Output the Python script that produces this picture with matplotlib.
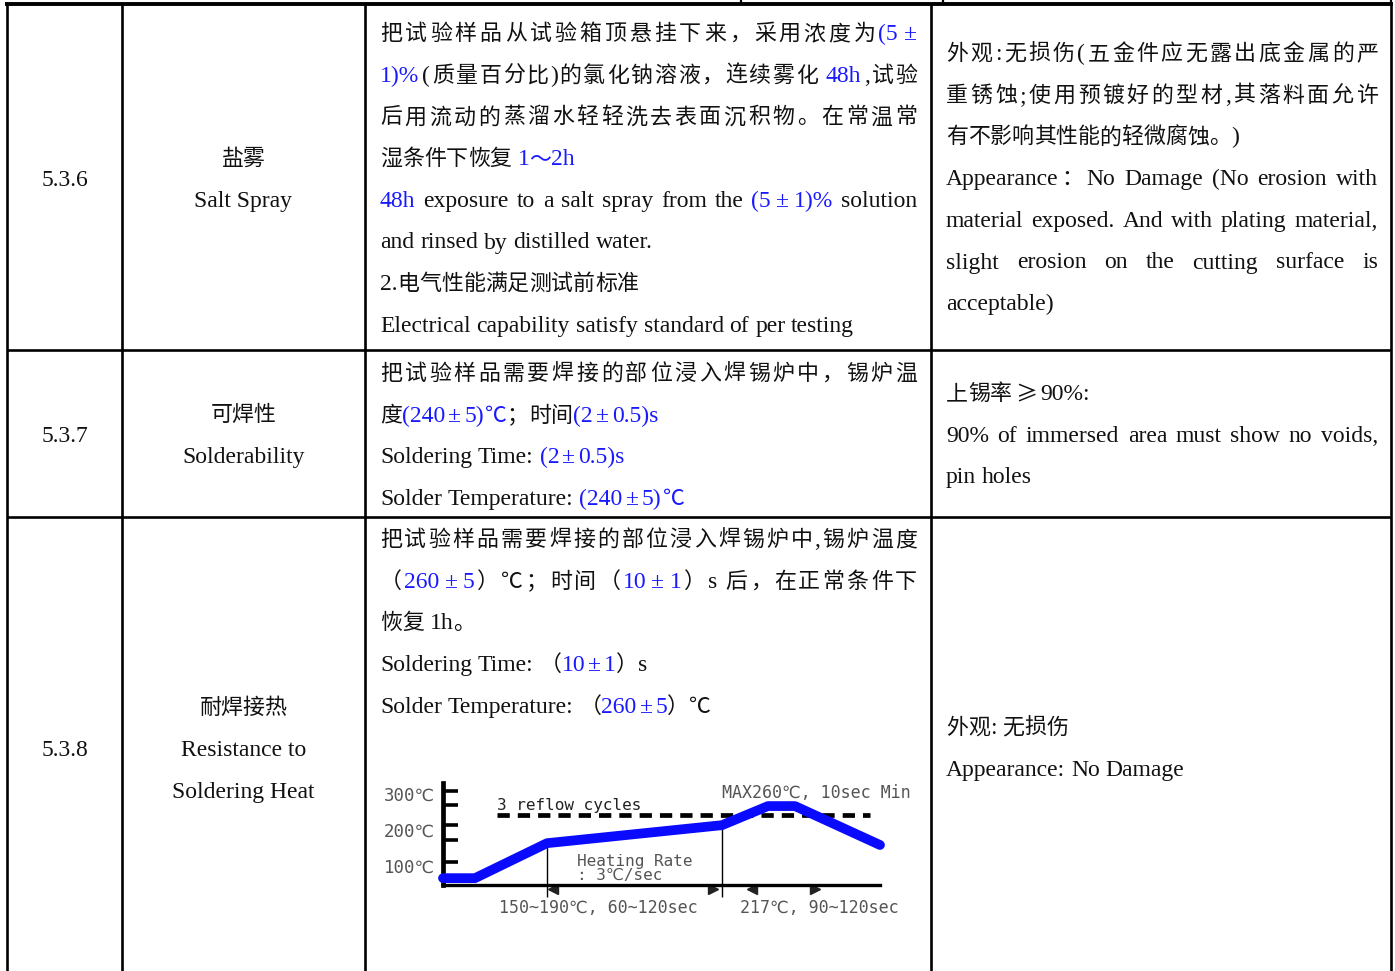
import unicodedata
import matplotlib
matplotlib.use("Agg")
import matplotlib.pyplot as plt

# ---- table content ----
row_codes = ["5.3.6", "5.3.7", "5.3.8"]
item_names = [["盐雾", "Salt Spray"],
              ["可焊性", "Solderability"],
              ["耐焊接热", "Resistance to", "Soldering Heat"]]

# {...} marks blue text, second value = justified line
method_lines = [
    [("把试验样品从试验箱顶悬挂下来，采用浓度为{(5±}", True),
     ("{1)%}(质量百分比)的氯化钠溶液，连续雾化 {48h},试验", True),
     ("后用流动的蒸溜水轻轻洗去表面沉积物。在常温常", True),
     ("湿条件下恢复 {1～2h}", False),
     ("{48h} exposure to a salt spray from the {(5±1)%} solution", True),
     ("and rinsed by distilled water.", False),
     ("2.电气性能满足测试前标准", False),
     ("Electrical capability satisfy standard of per testing", False)],
    [("把试验样品需要焊接的部位浸入焊锡炉中，锡炉温", True),
     ("度{(240±5)℃}；时间{(2±0.5)s}", False),
     ("Soldering Time: {(2±0.5)s}", False),
     ("Solder Temperature: {(240±5)℃}", False)],
    [("把试验样品需要焊接的部位浸入焊锡炉中,锡炉温度", True),
     ("（{260±5}）℃；时间（{10±1}）s 后，在正常条件下", True),
     ("恢复 1h。", False),
     ("Soldering Time: （{10±1}）s", False),
     ("Solder Temperature: （{260±5}）℃", False)],
]

criteria_lines = [
    [("外观:无损伤(五金件应无露出底金属的严", True),
     ("重锈蚀;使用预镀好的型材,其落料面允许", True),
     ("有不影响其性能的轻微腐蚀。)", False),
     ("Appearance：No Damage (No erosion with", True),
     ("material exposed. And with plating material,", True),
     ("slight erosion on the cutting surface is", True),
     ("acceptable)", False)],
    [("上锡率≥90%:", False),
     ("90% of immersed area must show no voids,", True),
     ("pin holes", False)],
    [("外观: 无损伤", False),
     ("Appearance: No Damage", False)],
]

# ---- reflow profile (inset) ----
profile_time = [0, 32, 104, 279, 325, 352, 437]
profile_temp = [72, 72, 169, 219, 272, 272, 164]
reflow_limit_temp = 247
reflow_limit_span = [54, 427]
axis_tick_temps = [117, 178, 219, 275, 314]
axis_label_temps = [100, 200, 300]
zone_marks = [104, 279]
zone_mark_temps = [169, 219]
arrow_left_t = [110, 309]
arrow_right_t = [270, 372]

W, H = 1395, 971
FS_LAT = 17
FS_CJK = 15.8
EM_CJK = FS_CJK * 100 / 72
SPACE = 0.25 * FS_LAT * 100 / 72
LAT = ['Liberation Serif', 'Noto Sans CJK SC']
CJK = ['Noto Sans CJK SC', 'Liberation Serif']
BLUE = '#1a1aff'
INK = '#111111'
OWN = '±℃≥'

fig = plt.figure(figsize=(W / 100, H / 100), dpi=100)
ax = fig.add_axes([0, 0, 1, 1])
ax.set_xlim(0, W)
ax.set_ylim(H, 0)
ax.axis('off')
renderer = fig.canvas.get_renderer()

# grid of the table
col_edges = [7, 122, 365, 931, 1391]
row_edges = [4, 350, 517]
ax.hlines(row_edges[0], col_edges[0] - 2, col_edges[-1] + 2, color='black', lw=2.8)
ax.hlines(row_edges[1:], col_edges[0], col_edges[-1], color='black', lw=1.9)
ax.vlines(col_edges, row_edges[0], H, color='black', lw=1.9)
ax.vlines([741, 943, 1391], 0, row_edges[0], color='black', lw=1.6)


def is_wide(ch):
    return unicodedata.east_asian_width(ch) in ('W', 'F')


def parse(line):
    segs, buf, blue = [], '', False
    for ch in line:
        if ch in '{}':
            if buf:
                segs.append((buf, blue))
                buf = ''
            blue = ch == '{'
        else:
            buf += ch
    if buf:
        segs.append((buf, blue))
    return segs


def split_tokens(segs):
    toks = []
    sp = False
    for txt, blue in segs:
        buf = ''
        for ch in txt:
            if ch == ' ':
                if buf:
                    toks.append((buf, blue, sp))
                    buf = ''
                sp = True
            elif is_wide(ch) or ch in OWN:
                if buf:
                    toks.append((buf, blue, sp))
                    buf = ''
                    sp = False
                toks.append((ch, blue, sp))
                sp = False
            else:
                buf += ch
        if buf:
            toks.append((buf, blue, sp))
            sp = False
    return toks


def style(tok):
    if is_wide(tok[0]) or tok in ('℃', '≥'):
        return dict(fontsize=FS_CJK, family=CJK, fontweight='light')
    return dict(fontsize=FS_LAT, family=LAT)


def tok_width(tok):
    if len(tok) == 1 and is_wide(tok):
        return EM_CJK
    t = ax.text(0, 0, tok, **style(tok))
    w = t.get_window_extent(renderer).width
    t.remove()
    return w


def draw_line(x0, yc, line, right=None):
    toks = split_tokens(parse(line))
    widths = [tok_width(t[0]) for t in toks]
    gaps = [0.0]
    for i in range(1, len(toks)):
        a, b = toks[i - 1][0], toks[i][0]
        if toks[i][2]:
            gaps.append(SPACE)
        elif a in '±≥' or b in '±≥':
            gaps.append(3.0)
        elif is_wide(b[0]) or is_wide(a[-1]):
            gaps.append(0.0)
        else:
            gaps.append(1.5)
    extra = 0.0
    if right is not None and len(toks) > 1:
        extra = max(0.0, (right - x0) - sum(widths) - sum(gaps)) / (len(toks) - 1)
    x = x0
    for i, (txt, blue, _) in enumerate(toks):
        if i > 0:
            x += gaps[i] + extra
        ax.text(x, yc + 8, txt, va='baseline', ha='left',
                color=BLUE if blue else INK, **style(txt))
        x += widths[i]


def center_text(xc, yc, txt):
    ax.text(xc, yc + 8, txt, ha='center', va='baseline', color=INK, **style(txt))


LINE_STEP = 41.7
code_y = [178, 434, 748]
name_y = [157, 413, 706]
for i, code in enumerate(row_codes):
    center_text(64.5, code_y[i], code)
    for j, name in enumerate(item_names[i]):
        center_text(243.5, name_y[i] + j * 42, name)

method_y = [32, 372, 538]
crit_y = [52, 392, 726]
for i in range(3):
    for j, (line, just) in enumerate(method_lines[i]):
        draw_line(380, method_y[i] + j * LINE_STEP, line, 917 if just else None)
    for j, (line, just) in enumerate(criteria_lines[i]):
        draw_line(946, crit_y[i] + j * LINE_STEP, line, 1378 if just else None)

# ---- inset reflow chart ----
x_l, x_r, y_t, y_b = 443, 880, 783, 885
ins = fig.add_axes([x_l / W, 1 - y_b / H, (x_r - x_l) / W, (y_b - y_t) / H])
ins.patch.set_alpha(0)
ins.set_xlim(0, x_r - x_l)
ins.set_ylim(53, 336)
for s in ['top', 'right']:
    ins.spines[s].set_visible(False)
ins.spines['left'].set_linewidth(3.4)
ins.spines['bottom'].set_linewidth(2.4)
ins.set_xticks([])
ins.set_yticks(axis_tick_temps)
ins.set_yticklabels([])
ins.tick_params(axis='y', direction='in', length=11, width=2.6, color='black')

MONO = ['DejaVu Sans Mono', 'DejaVu Sans']
GREY = '#555555'
for tt in axis_label_temps:
    ins.text(-8, tt, f"{tt}℃", fontsize=12.5, family=MONO, color=GREY,
             ha='right', va='center', clip_on=False)

ins.plot(reflow_limit_span, [reflow_limit_temp] * 2, color='black', lw=3.4,
         dashes=(2.6, 1.7), zorder=2)
ins.text(reflow_limit_span[0], reflow_limit_temp + 6, "3 reflow cycles", fontsize=11.5,
         family=MONO, color='#222222', ha='left', va='bottom')
ins.plot(profile_time, profile_temp, color='#0a0aff', lw=7, solid_capstyle='round',
         solid_joinstyle='round', zorder=3, clip_on=False)
ins.vlines(zone_marks, [20, 20], zone_mark_temps, color='black', lw=1.0, clip_on=False)
ins.plot(arrow_left_t, [41, 41], marker='<', ls='none', color='#222222', ms=7, clip_on=False)
ins.plot(arrow_right_t, [41, 41], marker='>', ls='none', color='#222222', ms=7, clip_on=False)
ins.text(279, 308, "MAX260℃, 10sec Min", fontsize=12, family=MONO, color=GREY,
         ha='left', va='center', clip_on=False)
ins.text(192, 117, "Heating Rate", fontsize=11.5, family=MONO, color=GREY,
         ha='center', va='center')
ins.text(177, 80, ": 3℃/sec", fontsize=11.5, family=MONO, color=GREY,
         ha='center', va='center')
ins.text(155, -12, "150~190℃, 60~120sec", fontsize=12, family=MONO, color=GREY,
         ha='center', va='center', clip_on=False)
ins.text(376, -12, "217℃, 90~120sec", fontsize=12, family=MONO, color=GREY,
         ha='center', va='center', clip_on=False)

fig.savefig("out.png", dpi=100)
